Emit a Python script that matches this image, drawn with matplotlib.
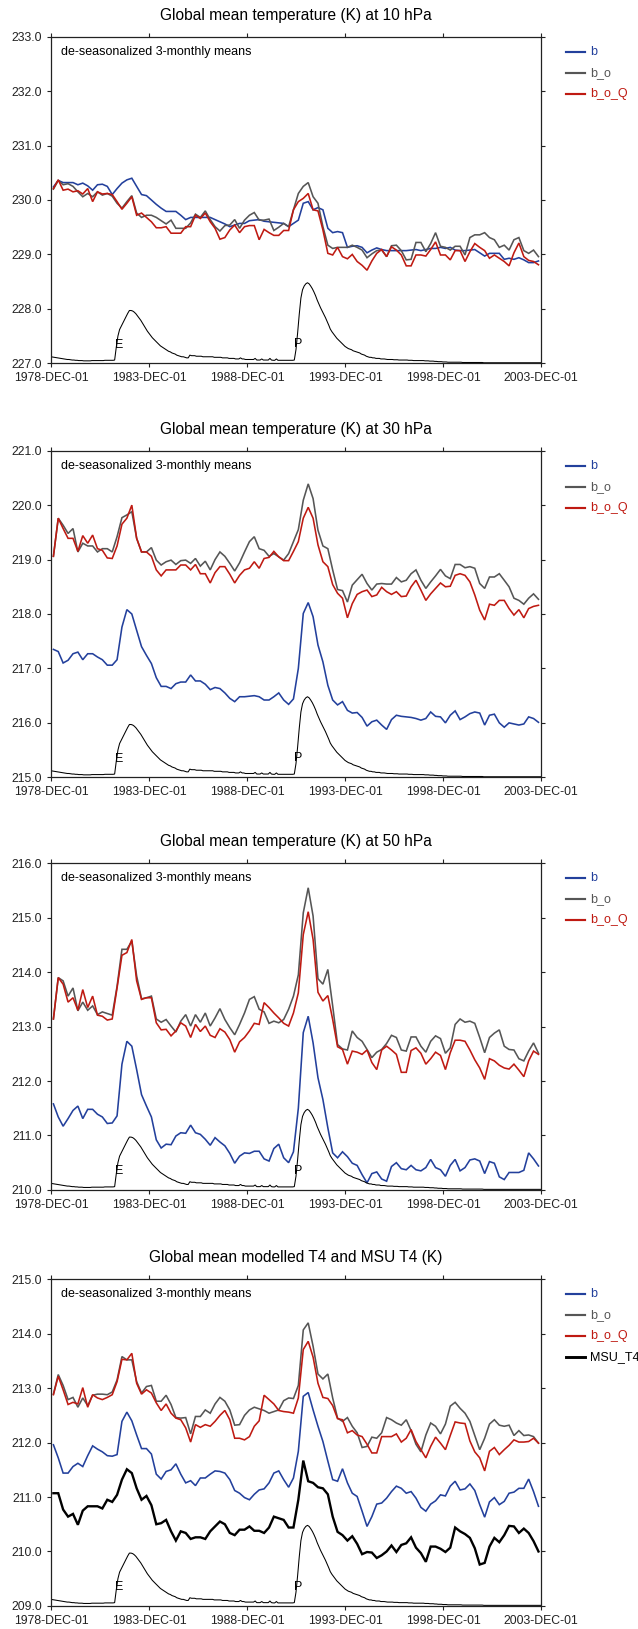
import numpy as np
import matplotlib
matplotlib.use('Agg')
import matplotlib.pyplot as plt
from matplotlib.lines import Line2D

plt.rcParams['font.family'] = ['Liberation Sans', 'DejaVu Sans']

# ---- time axes ----
# 3-monthly means, first one centred on Jan 1979, 100 values
qdates = (np.datetime64('1979-01') + np.arange(0, 300, 3).astype('timedelta64[M]')).astype('datetime64[D]') + np.timedelta64(14, 'D')
# monthly aerosol index, Dec 1978 .. Dec 2003
mdates = (np.datetime64('1978-12') + np.arange(301).astype('timedelta64[M]')).astype('datetime64[D]')

xticks = np.array(['1978-12-01', '1983-12-01', '1988-12-01', '1993-12-01', '1998-12-01', '2003-12-01'], dtype='datetime64[D]')
xtick_labels = ['1978-DEC-01', '1983-DEC-01', '1988-DEC-01', '1993-DEC-01', '1998-DEC-01', '2003-DEC-01']

# ---- 10 hPa ----
t10_b = [230.24, 230.36, 230.32, 230.32, 230.32, 230.28, 230.31, 230.26, 230.18, 230.28,
         230.29, 230.25, 230.10, 230.21, 230.31, 230.37, 230.40, 230.25, 230.10, 230.08,
         230.00, 229.92, 229.85, 229.79, 229.79, 229.79, 229.72, 229.64, 229.68, 229.68,
         229.68, 229.68, 229.68, 229.64, 229.60, 229.56, 229.51, 229.54, 229.57, 229.57,
         229.62, 229.63, 229.64, 229.61, 229.60, 229.59, 229.58, 229.57, 229.51, 229.57,
         229.63, 229.94, 229.97, 229.82, 229.86, 229.82, 229.48, 229.40, 229.42, 229.40,
         229.13, 229.15, 229.16, 229.13, 229.03, 229.08, 229.12, 229.09, 229.07, 229.07,
         229.07, 229.07, 229.07, 229.08, 229.09, 229.07, 229.09, 229.11, 229.11, 229.13,
         229.11, 229.13, 229.08, 229.07, 229.07, 229.08, 229.09, 229.03, 228.97, 229.02,
         229.02, 229.02, 228.91, 228.93, 228.91, 228.94, 228.90, 228.85, 228.85, 228.88]
t10_bo = [230.20, 230.36, 230.28, 230.30, 230.25, 230.15, 230.06, 230.12, 230.06, 230.15,
          230.09, 230.12, 230.07, 229.94, 229.85, 229.97, 230.08, 229.76, 229.68, 229.72,
          229.72, 229.68, 229.62, 229.56, 229.63, 229.48, 229.48, 229.48, 229.58, 229.74,
          229.68, 229.80, 229.64, 229.51, 229.43, 229.53, 229.54, 229.64, 229.48, 229.63,
          229.72, 229.77, 229.63, 229.63, 229.65, 229.44, 229.50, 229.57, 229.51, 229.82,
          230.12, 230.25, 230.32, 230.06, 229.94, 229.51, 229.17, 229.11, 229.13, 229.13,
          229.13, 229.17, 229.13, 229.08, 228.94, 229.01, 229.07, 229.08, 228.96, 229.16,
          229.17, 229.07, 228.90, 228.91, 229.22, 229.22, 229.05, 229.20, 229.40, 229.15,
          229.13, 229.08, 229.15, 229.15, 228.99, 229.31, 229.36, 229.36, 229.40, 229.31,
          229.27, 229.13, 229.17, 229.08, 229.27, 229.31, 229.07, 229.02, 229.08, 228.96]
t10_boq = [230.21, 230.37, 230.18, 230.20, 230.15, 230.17, 230.11, 230.21, 229.97, 230.15,
           230.11, 230.12, 230.10, 229.97, 229.83, 229.94, 230.06, 229.72, 229.76, 229.68,
           229.60, 229.49, 229.49, 229.51, 229.39, 229.39, 229.39, 229.51, 229.51, 229.72,
           229.66, 229.76, 229.60, 229.48, 229.28, 229.31, 229.45, 229.54, 229.40, 229.51,
           229.53, 229.53, 229.27, 229.46, 229.40, 229.35, 229.35, 229.44, 229.44, 229.82,
           229.97, 230.03, 230.12, 229.82, 229.80, 229.45, 229.02, 228.99, 229.13, 228.96,
           228.92, 229.00, 228.87, 228.80, 228.71, 228.88, 229.02, 229.09, 228.96, 229.14,
           229.08, 228.99, 228.79, 228.79, 228.99, 228.99, 228.97, 229.09, 229.23, 228.99,
           228.99, 228.90, 229.07, 229.07, 228.87, 229.05, 229.20, 229.13, 229.07, 228.93,
           228.99, 228.93, 228.87, 228.79, 229.03, 229.21, 228.96, 228.89, 228.87, 228.81]

# ---- 30 hPa ----
t30_b = [217.35, 217.31, 217.10, 217.15, 217.27, 217.30, 217.16, 217.27, 217.27, 217.21,
         217.16, 217.06, 217.06, 217.16, 217.76, 218.08, 218.00, 217.70, 217.40, 217.24,
         217.09, 216.83, 216.67, 216.67, 216.63, 216.72, 216.75, 216.75, 216.88, 216.77,
         216.77, 216.71, 216.61, 216.65, 216.63, 216.55, 216.45, 216.39, 216.48, 216.48,
         216.49, 216.50, 216.48, 216.42, 216.42, 216.48, 216.55, 216.42, 216.34, 216.44,
         217.00, 218.01, 218.21, 217.95, 217.43, 217.12, 216.69, 216.42, 216.33, 216.39,
         216.23, 216.18, 216.19, 216.10, 215.94, 216.02, 216.05, 215.96, 215.88, 216.06,
         216.14, 216.12, 216.11, 216.10, 216.08, 216.05, 216.08, 216.20, 216.12, 216.11,
         216.00, 216.14, 216.22, 216.06, 216.11, 216.17, 216.20, 216.18, 215.96, 216.14,
         216.16, 216.00, 215.92, 216.00, 215.98, 215.96, 215.98, 216.11, 216.08, 216.01]
t30_bo = [219.06, 219.76, 219.63, 219.48, 219.57, 219.14, 219.30, 219.25, 219.25, 219.14,
          219.20, 219.20, 219.14, 219.42, 219.77, 219.82, 219.88, 219.39, 219.14, 219.14,
          219.22, 218.99, 218.90, 218.96, 218.99, 218.91, 218.98, 218.99, 218.93, 219.02,
          218.88, 218.97, 218.81, 219.00, 219.14, 219.06, 218.93, 218.79, 218.94, 219.14,
          219.33, 219.42, 219.20, 219.17, 219.06, 219.11, 219.05, 218.99, 219.11, 219.33,
          219.55, 220.09, 220.39, 220.12, 219.54, 219.25, 219.20, 218.81, 218.45, 218.43,
          218.22, 218.53, 218.63, 218.73, 218.56, 218.44, 218.55, 218.56, 218.55, 218.55,
          218.67, 218.59, 218.62, 218.74, 218.81, 218.62, 218.47, 218.59, 218.70, 218.82,
          218.70, 218.65, 218.91, 218.91, 218.85, 218.87, 218.84, 218.56, 218.47, 218.68,
          218.68, 218.74, 218.62, 218.50, 218.29, 218.25, 218.18, 218.29, 218.37, 218.27]
t30_boq = [219.06, 219.76, 219.57, 219.39, 219.39, 219.15, 219.44, 219.30, 219.45, 219.20,
           219.17, 219.03, 219.02, 219.25, 219.65, 219.76, 220.00, 219.39, 219.14, 219.14,
           219.06, 218.81, 218.70, 218.81, 218.81, 218.81, 218.90, 218.90, 218.81, 218.91,
           218.74, 218.74, 218.57, 218.76, 218.87, 218.87, 218.73, 218.57, 218.71, 218.81,
           218.84, 218.96, 218.84, 219.02, 219.04, 219.15, 219.05, 218.98, 218.98, 219.15,
           219.33, 219.76, 219.96, 219.76, 219.27, 218.96, 218.87, 218.54, 218.38, 218.29,
           217.93, 218.19, 218.36, 218.41, 218.44, 218.32, 218.35, 218.49, 218.41, 218.36,
           218.41, 218.32, 218.33, 218.50, 218.62, 218.44, 218.25, 218.37, 218.47, 218.57,
           218.50, 218.51, 218.71, 218.74, 218.71, 218.59, 218.35, 218.07, 217.89, 218.18,
           218.16, 218.25, 218.25, 218.10, 217.98, 218.08, 217.93, 218.10, 218.14, 218.16]

# ---- 50 hPa ----
t50_b = [211.58, 211.34, 211.17, 211.31, 211.46, 211.54, 211.31, 211.48, 211.48, 211.39,
         211.34, 211.22, 211.23, 211.36, 212.31, 212.73, 212.64, 212.21, 211.75, 211.54,
         211.34, 210.92, 210.77, 210.84, 210.83, 210.99, 211.05, 211.04, 211.19, 211.05,
         211.02, 210.93, 210.82, 210.96, 210.88, 210.81, 210.67, 210.49, 210.62, 210.68,
         210.67, 210.71, 210.71, 210.57, 210.53, 210.76, 210.84, 210.59, 210.50, 210.70,
         211.50, 212.89, 213.19, 212.70, 212.06, 211.66, 211.14, 210.68, 210.59, 210.70,
         210.61, 210.49, 210.45, 210.28, 210.13, 210.30, 210.33, 210.20, 210.16, 210.43,
         210.50, 210.39, 210.37, 210.45, 210.37, 210.35, 210.41, 210.56, 210.41, 210.37,
         210.25, 210.45, 210.56, 210.35, 210.41, 210.55, 210.57, 210.53, 210.30, 210.52,
         210.49, 210.24, 210.19, 210.32, 210.32, 210.32, 210.36, 210.68, 210.57, 210.44]
t50_bo = [213.14, 213.90, 213.84, 213.56, 213.71, 213.29, 213.45, 213.30, 213.38, 213.22,
          213.27, 213.24, 213.21, 213.74, 214.42, 214.42, 214.57, 213.93, 213.51, 213.53,
          213.56, 213.14, 213.08, 213.13, 213.01, 212.90, 213.10, 213.22, 213.01, 213.22,
          213.08, 213.25, 213.01, 213.16, 213.33, 213.13, 212.98, 212.85, 213.04, 213.25,
          213.50, 213.55, 213.32, 213.27, 213.06, 213.10, 213.07, 213.13, 213.32, 213.56,
          213.95, 215.09, 215.55, 215.03, 213.88, 213.78, 214.05, 213.38, 212.67, 212.59,
          212.57, 212.92, 212.80, 212.73, 212.58, 212.43, 212.53, 212.58, 212.69, 212.84,
          212.80, 212.57, 212.55, 212.81, 212.81, 212.64, 212.53, 212.73, 212.83, 212.78,
          212.51, 212.61, 213.04, 213.14, 213.08, 213.10, 213.06, 212.80, 212.52, 212.80,
          212.88, 212.94, 212.64, 212.58, 212.57, 212.41, 212.37, 212.55, 212.70, 212.51]
t50_boq = [213.14, 213.90, 213.78, 213.45, 213.53, 213.30, 213.68, 213.35, 213.56, 213.21,
           213.19, 213.12, 213.14, 213.71, 214.31, 214.36, 214.60, 213.84, 213.50, 213.53,
           213.53, 213.07, 212.94, 212.95, 212.83, 212.92, 213.07, 213.01, 212.80, 213.04,
           212.91, 213.01, 212.84, 212.80, 212.96, 212.90, 212.76, 212.53, 212.72, 212.80,
           212.92, 213.06, 213.04, 213.44, 213.35, 213.25, 213.16, 213.06, 213.01, 213.25,
           213.62, 214.69, 215.11, 214.60, 213.63, 213.47, 213.57, 213.13, 212.63, 212.58,
           212.31, 212.55, 212.53, 212.49, 212.57, 212.34, 212.21, 212.57, 212.64, 212.57,
           212.49, 212.16, 212.16, 212.56, 212.61, 212.51, 212.31, 212.41, 212.53, 212.47,
           212.21, 212.52, 212.75, 212.75, 212.73, 212.57, 212.39, 212.24, 212.03, 212.41,
           212.37, 212.29, 212.24, 212.22, 212.31, 212.20, 212.08, 212.37, 212.55, 212.49]

# ---- T4 ----
t4_b = [211.96, 211.72, 211.44, 211.44, 211.56, 211.62, 211.56, 211.76, 211.94, 211.88,
        211.83, 211.76, 211.75, 211.78, 212.39, 212.56, 212.40, 212.14, 211.89, 211.89,
        211.79, 211.42, 211.33, 211.47, 211.50, 211.61, 211.42, 211.26, 211.30, 211.21,
        211.35, 211.35, 211.42, 211.48, 211.47, 211.44, 211.32, 211.12, 211.07, 210.99,
        210.95, 211.05, 211.13, 211.15, 211.26, 211.44, 211.48, 211.32, 211.18, 211.35,
        211.84, 212.85, 212.92, 212.60, 212.30, 212.02, 211.66, 211.32, 211.29, 211.52,
        211.26, 211.07, 211.01, 210.74, 210.46, 210.64, 210.87, 210.89, 210.98, 211.10,
        211.20, 211.16, 211.07, 211.10, 210.98, 210.81, 210.74, 210.87, 210.93, 211.04,
        211.02, 211.20, 211.29, 211.13, 211.15, 211.24, 211.12, 210.86, 210.63, 210.91,
        210.99, 210.86, 210.92, 211.07, 211.09, 211.16, 211.16, 211.33, 211.10, 210.83]
t4_bo = [212.89, 213.25, 213.05, 212.79, 212.83, 212.65, 212.82, 212.68, 212.87, 212.89,
         212.89, 212.88, 212.93, 213.15, 213.58, 213.52, 213.52, 213.12, 212.91, 213.03,
         213.05, 212.76, 212.76, 212.87, 212.70, 212.46, 212.45, 212.46, 212.16, 212.48,
         212.48, 212.60, 212.54, 212.71, 212.83, 212.76, 212.60, 212.32, 212.33, 212.50,
         212.60, 212.65, 212.62, 212.59, 212.54, 212.57, 212.60, 212.77, 212.82, 212.81,
         213.05, 214.07, 214.20, 213.77, 213.26, 213.17, 213.26, 212.82, 212.45, 212.39,
         212.46, 212.30, 212.18, 211.91, 211.93, 212.10, 212.08, 212.18, 212.46, 212.42,
         212.36, 212.32, 212.42, 212.22, 211.97, 211.83, 212.14, 212.36, 212.30, 212.16,
         212.34, 212.67, 212.74, 212.63, 212.54, 212.39, 212.13, 211.87, 212.08, 212.34,
         212.42, 212.32, 212.30, 212.32, 212.13, 212.22, 212.13, 212.14, 212.11, 211.99]
t4_boq = [212.88, 213.22, 212.97, 212.70, 212.74, 212.71, 213.01, 212.65, 212.88, 212.82,
          212.79, 212.83, 212.88, 213.12, 213.53, 213.52, 213.64, 213.09, 212.89, 212.97,
          212.91, 212.73, 212.59, 212.71, 212.54, 212.45, 212.42, 212.27, 212.01, 212.33,
          212.28, 212.33, 212.30, 212.39, 212.50, 212.59, 212.42, 212.08, 212.08, 212.05,
          212.11, 212.30, 212.40, 212.87, 212.79, 212.71, 212.59, 212.57, 212.56, 212.54,
          212.82, 213.71, 213.86, 213.57, 213.09, 212.83, 212.81, 212.68, 212.44, 212.42,
          212.18, 212.22, 212.14, 212.11, 211.97, 211.81, 211.81, 212.11, 212.11, 212.11,
          212.16, 212.01, 212.08, 212.24, 212.02, 211.87, 211.72, 211.93, 212.10, 211.99,
          211.87, 212.13, 212.38, 212.36, 212.35, 212.03, 211.83, 211.72, 211.48, 211.84,
          211.91, 211.78, 211.87, 211.95, 212.05, 212.01, 212.01, 212.02, 212.08, 211.99]
t4_msu = [211.07, 211.07, 210.77, 210.64, 210.69, 210.49, 210.75, 210.83, 210.83, 210.83,
          210.79, 210.95, 210.91, 211.04, 211.32, 211.51, 211.44, 211.16, 210.95, 211.02,
          210.85, 210.50, 210.52, 210.58, 210.37, 210.20, 210.37, 210.34, 210.23, 210.26,
          210.26, 210.23, 210.37, 210.46, 210.55, 210.50, 210.34, 210.30, 210.40, 210.40,
          210.46, 210.38, 210.38, 210.34, 210.44, 210.64, 210.61, 210.58, 210.44, 210.44,
          210.95, 211.67, 211.29, 211.26, 211.18, 211.16, 211.05, 210.64, 210.36, 210.30,
          210.20, 210.28, 210.14, 209.95, 209.99, 209.98, 209.88, 209.93, 210.00, 210.11,
          209.99, 210.12, 210.15, 210.26, 210.07, 209.97, 209.81, 210.09, 210.09, 210.05,
          209.99, 210.07, 210.44, 210.37, 210.32, 210.25, 210.06, 209.76, 209.79, 210.09,
          210.25, 210.17, 210.30, 210.47, 210.46, 210.34, 210.42, 210.34, 210.19, 210.00]

# volcanic aerosol index (drawn above the bottom of each panel), monthly
aerosol = [0.12,
           0.115, 0.11, 0.105, 0.10, 0.095, 0.09, 0.085, 0.08, 0.075, 0.07, 0.07, 0.065,   # 1979
           0.06, 0.06, 0.055, 0.055, 0.05, 0.05, 0.05, 0.045, 0.045, 0.045, 0.045, 0.045,  # 1980
           0.05, 0.05, 0.05, 0.05, 0.05, 0.05, 0.05, 0.05, 0.055, 0.055, 0.055, 0.055,     # 1981
           0.055, 0.055, 0.06, 0.30, 0.50, 0.62, 0.68, 0.74, 0.80, 0.86, 0.92, 0.97,      # 1982
           0.97, 0.96, 0.94, 0.91, 0.87, 0.83, 0.79, 0.74, 0.69, 0.64, 0.59, 0.55,        # 1983
           0.51, 0.47, 0.44, 0.41, 0.38, 0.35, 0.32, 0.30, 0.28, 0.26, 0.24, 0.22,        # 1984
           0.21, 0.19, 0.18, 0.17, 0.15, 0.14, 0.13, 0.12, 0.12, 0.11, 0.10, 0.10,        # 1985
           0.15, 0.14, 0.14, 0.14, 0.13, 0.13, 0.13, 0.13, 0.12, 0.12, 0.12, 0.12,        # 1986
           0.12, 0.12, 0.12, 0.11, 0.11, 0.11, 0.11, 0.11, 0.10, 0.10, 0.10, 0.10,        # 1987
           0.09, 0.09, 0.09, 0.09, 0.08, 0.08, 0.08, 0.10, 0.08, 0.08, 0.07, 0.07,        # 1988
           0.07, 0.07, 0.07, 0.07, 0.09, 0.06, 0.06, 0.06, 0.08, 0.06, 0.06, 0.06,        # 1989
           0.06, 0.09, 0.06, 0.055, 0.055, 0.08, 0.055, 0.055, 0.055, 0.055, 0.055, 0.055,  # 1990
           0.055, 0.055, 0.055, 0.055, 0.06, 0.25, 0.55, 0.90, 1.20, 1.35, 1.42, 1.46,    # 1991
           1.48, 1.46, 1.42, 1.37, 1.31, 1.24, 1.16, 1.09, 1.02, 0.96, 0.90, 0.84,        # 1992
           0.77, 0.70, 0.63, 0.58, 0.54, 0.50, 0.46, 0.43, 0.40, 0.37, 0.34, 0.31,        # 1993
           0.29, 0.27, 0.26, 0.25, 0.23, 0.22, 0.21, 0.20, 0.19, 0.17, 0.16, 0.15,        # 1994
           0.13, 0.12, 0.11, 0.11, 0.10, 0.10, 0.09, 0.09, 0.09, 0.08, 0.08, 0.08,        # 1995
           0.075, 0.07, 0.07, 0.07, 0.07, 0.065, 0.065, 0.065, 0.06, 0.06, 0.06, 0.06,    # 1996
           0.06, 0.06, 0.055, 0.055, 0.055, 0.05, 0.05, 0.05, 0.05, 0.05, 0.05, 0.05,     # 1997
           0.045, 0.045, 0.045, 0.04, 0.04, 0.04, 0.035, 0.035, 0.03, 0.03, 0.03, 0.025,  # 1998
           0.025, 0.025, 0.02, 0.02, 0.02, 0.02, 0.02, 0.02, 0.02, 0.02, 0.02, 0.015,     # 1999
           0.015, 0.015, 0.015, 0.015, 0.015, 0.015, 0.015, 0.015, 0.015, 0.015, 0.015, 0.015,  # 2000
           0.01, 0.01, 0.01, 0.01, 0.01, 0.01, 0.01, 0.01, 0.01, 0.01, 0.01, 0.01,        # 2001
           0.01, 0.01, 0.01, 0.01, 0.01, 0.01, 0.01, 0.01, 0.01, 0.01, 0.01, 0.01,        # 2002
           0.01, 0.01, 0.01, 0.01, 0.01, 0.01, 0.01, 0.01, 0.01, 0.01, 0.01, 0.01]        # 2003

eruption_dates = np.array(['1982-06-01', '1991-07-08'], dtype='datetime64[D]')
eruption_labels = ['E', 'P']
eruption_height = [0.34, 0.35]

titles = ['Global mean temperature (K) at 10 hPa',
          'Global mean temperature (K) at 30 hPa',
          'Global mean temperature (K) at 50 hPa',
          'Global mean modelled T4 and MSU T4 (K)']
ymins = [227.0, 215.0, 210.0, 209.0]
panel_series = [
    [('b', t10_b), ('b_o', t10_bo), ('b_o_Q', t10_boq)],
    [('b', t30_b), ('b_o', t30_bo), ('b_o_Q', t30_boq)],
    [('b', t50_b), ('b_o', t50_bo), ('b_o_Q', t50_boq)],
    [('b', t4_b), ('b_o', t4_bo), ('b_o_Q', t4_boq), ('MSU_T4', t4_msu)],
]

colors = {'b': '#23409c', 'b_o': '#565656', 'b_o_Q': '#bf1a12', 'MSU_T4': '#000000'}
widths = {'b': 1.15, 'b_o': 1.15, 'b_o_Q': 1.15, 'MSU_T4': 1.7}

W, H = 638, 1629
fig = plt.figure(figsize=(W / 100, H / 100), dpi=100)

ax_left, ax_w, ax_h = 51, 490, 326.6
ax_tops = [36.7, 450.7, 863.3, 1279.3]

for i in range(4):
    top = ax_tops[i]
    ax = fig.add_axes([ax_left / W, 1 - (top + ax_h) / H, ax_w / W, ax_h / H])
    ymin = ymins[i]

    for name, vals in panel_series[i]:
        ax.plot(qdates, vals, color=colors[name], lw=widths[name], solid_joinstyle='miter')

    # aerosol curve sits on the bottom axis
    ax.plot(mdates, ymin + np.array(aerosol), color='black', lw=0.75)
    for d, lab, hgt in zip(eruption_dates, eruption_labels, eruption_height):
        ax.text(d, ymin + hgt, lab, fontsize=9, ha='center', va='center')

    ax.set_xlim(np.datetime64('1978-12-01'), np.datetime64('2003-12-01'))
    ax.set_ylim(ymin, ymin + 6)
    ax.set_xticks(xticks)
    ax.set_xticklabels(xtick_labels)
    ax.set_yticks(np.arange(ymin, ymin + 6.01, 1.0))
    ax.yaxis.set_major_formatter(plt.FormatStrFormatter('%.1f'))
    ax.minorticks_off()
    ax.tick_params(direction='out', length=2.6, width=0.8, top=True, right=True,
                   labelsize=8.8, colors='#222222')
    ax.tick_params(axis='x', pad=4)
    ax.tick_params(axis='y', pad=4)
    for sp in ax.spines.values():
        sp.set_linewidth(0.9)
        sp.set_color('#222222')

    ax.text(0.5, 1 + 21.5 / ax_h, titles[i], transform=ax.transAxes,
            ha='center', va='center', fontsize=11.2)
    ax.text(10 / ax_w, 1 - 15 / ax_h, 'de-seasonalized 3-monthly means',
            transform=ax.transAxes, ha='left', va='center', fontsize=9)

    # legend on the right of the frame
    for j, (name, vals) in enumerate(panel_series[i]):
        yy = 1 - (15 + 21 * j) / ax_h
        ax.add_line(Line2D([(565.6 - ax_left) / ax_w, (584.7 - ax_left) / ax_w], [yy, yy],
                           transform=ax.transAxes, color=colors[name],
                           lw=widths[name] + 0.4, clip_on=False))
        ax.text((590 - ax_left) / ax_w, yy, name, transform=ax.transAxes,
                ha='left', va='center', fontsize=9, color=colors[name])

fig.savefig('out.png', dpi=100, facecolor='white')
